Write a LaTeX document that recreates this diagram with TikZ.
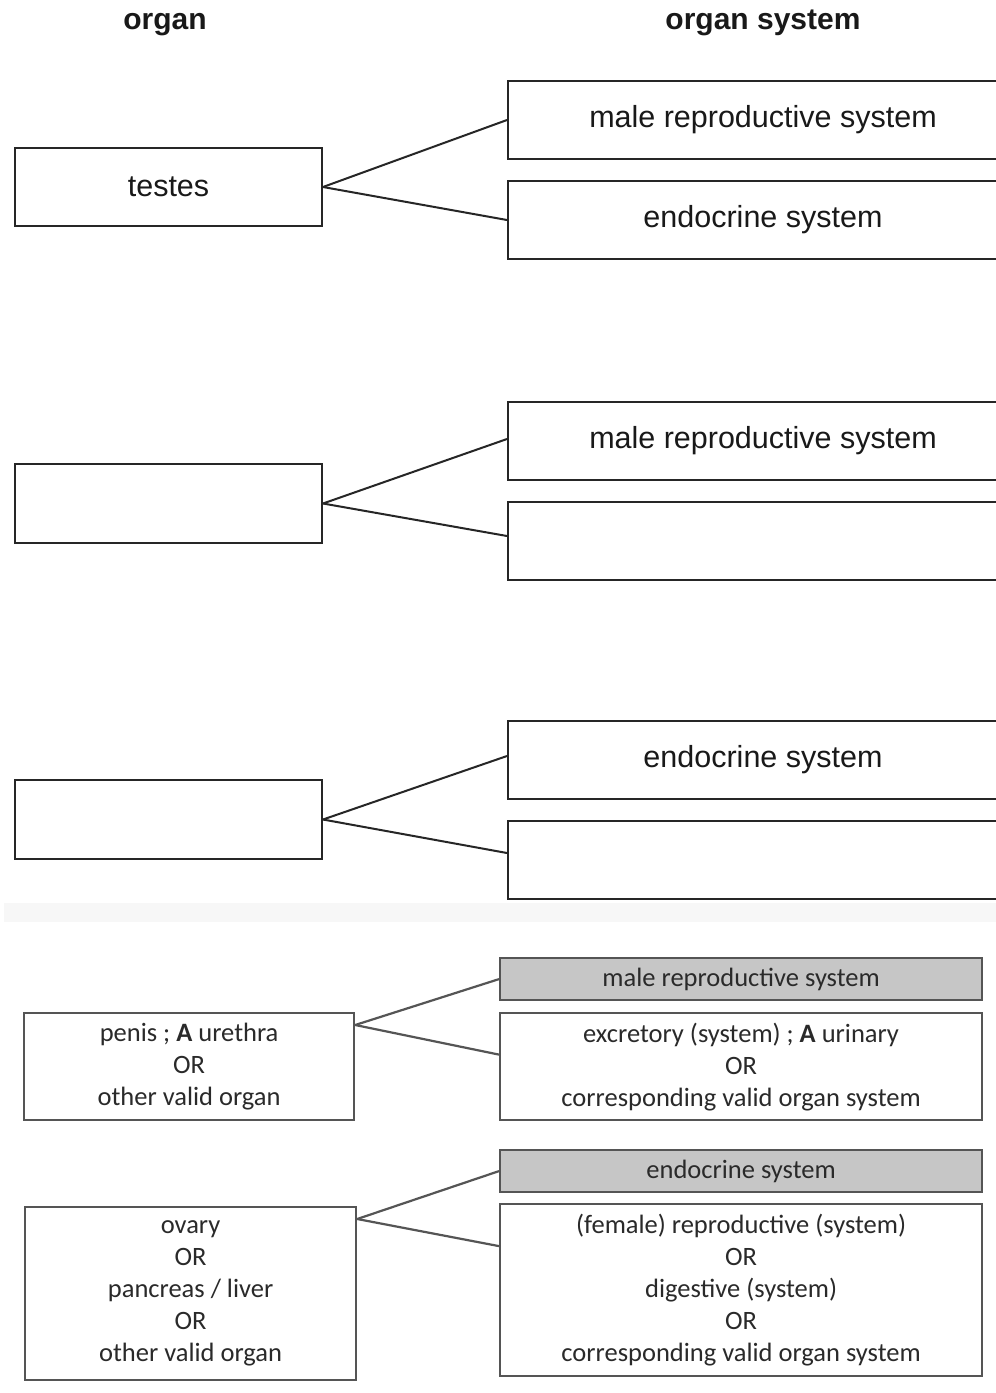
\documentclass[tikz,border=0pt]{standalone}
\usepackage{fontspec}
\setmainfont{Liberation Sans}
\newfontfamily\carl{Carlito}
\definecolor{msline}{HTML}{555555}
\definecolor{mstext}{HTML}{2A2A2A}
\definecolor{msfill}{HTML}{C6C6C6}
\definecolor{band}{HTML}{F7F7F7}
\tikzset{
  hdr/.style={font=\fontsize{30}{34}\selectfont\bfseries, text=black!90, anchor=base},
  topbox/.style={draw=black!85, line width=2pt, fill=white, inner sep=0pt, anchor=north west,
    font=\fontsize{30.5}{34}\selectfont, text=black!90},
  conn/.style={draw=black!85, line width=2pt},
  msbox/.style={draw=msline, line width=2.2pt, fill=white, inner sep=0pt, anchor=north west,
    align=center, font=\carl\fontsize{26.5}{32}\selectfont, text=mstext},
  msgray/.style={msbox, fill=msfill},
  msconn/.style={draw=msline, line width=2.2pt}
}
\begin{document}
\begin{tikzpicture}[x=1pt,y=-1pt]
\clip (0,0) rectangle (996,1393);
\fill[white] (0,0) rectangle (996,1393);
% headers
\node[hdr] (h1) at (165,29) {organ};
\node[hdr] (h2) at (763,29) {organ system};
% group 1
\node[topbox, minimum width=307, minimum height=78] (o1) at (14,147) {testes};
\node[topbox, minimum width=510, minimum height=78] (s1a) at (507,80) {male reproductive system};
\node[topbox, minimum width=510, minimum height=78] (s1b) at (507,180) {endocrine system};
\draw[conn] (o1.east) -- (s1a.west);
\draw[conn] (o1.east) -- (s1b.west);
% group 2
\node[topbox, minimum width=307, minimum height=79] (o2) at (14,463) {};
\node[topbox, minimum width=510, minimum height=78] (s2a) at (507,401) {male reproductive system};
\node[topbox, minimum width=510, minimum height=78] (s2b) at (507,501) {};
\draw[conn] (o2.east) -- ([yshift=2]s2a.west);
\draw[conn] (o2.east) -- ([yshift=5]s2b.west);
% group 3
\node[topbox, minimum width=307, minimum height=79] (o3) at (14,779) {};
\node[topbox, minimum width=510, minimum height=78] (s3a) at (507,720) {endocrine system};
\node[topbox, minimum width=510, minimum height=78] (s3b) at (507,820) {};
\draw[conn] (o3.east) -- ([yshift=4]s3a.west);
\draw[conn] (o3.east) -- ([yshift=7]s3b.west);
% separator band
\fill[band] (4,903) rectangle (996,922);
% mark scheme 1
\node[msgray, minimum width=482, minimum height=42] (m1a) at (499,957) {male reproductive system};
\node[msbox, minimum width=330, minimum height=107] (m1o) at (23,1012) {penis ; \textbf{A} urethra\\OR\\other valid organ};
\node[msbox, minimum width=482, minimum height=107] (m1b) at (499,1012) {excretory (system) ; \textbf{A} urinary\\OR\\corresponding valid organ system};
\draw[msconn] ([yshift=-13]m1o.north east) -- (m1a.west);
\draw[msconn] ([yshift=-13]m1o.north east) -- ([yshift=12]m1b.west);
% mark scheme 2
\node[msgray, minimum width=482, minimum height=42] (m2a) at (499,1149) {endocrine system};
\node[msbox, minimum width=331, minimum height=173] (m2o) at (24,1206) {ovary\\OR\\pancreas / liver\\OR\\other valid organ};
\node[msbox, minimum width=482, minimum height=172] (m2b) at (499,1203) {(female) reproductive (system)\\OR\\digestive (system)\\OR\\corresponding valid organ system};
\draw[msconn] ([yshift=-13]m2o.north east) -- (m2a.west);
\draw[msconn] ([yshift=-13]m2o.north east) -- ([yshift=44]m2b.west);
\end{tikzpicture}
\end{document}
